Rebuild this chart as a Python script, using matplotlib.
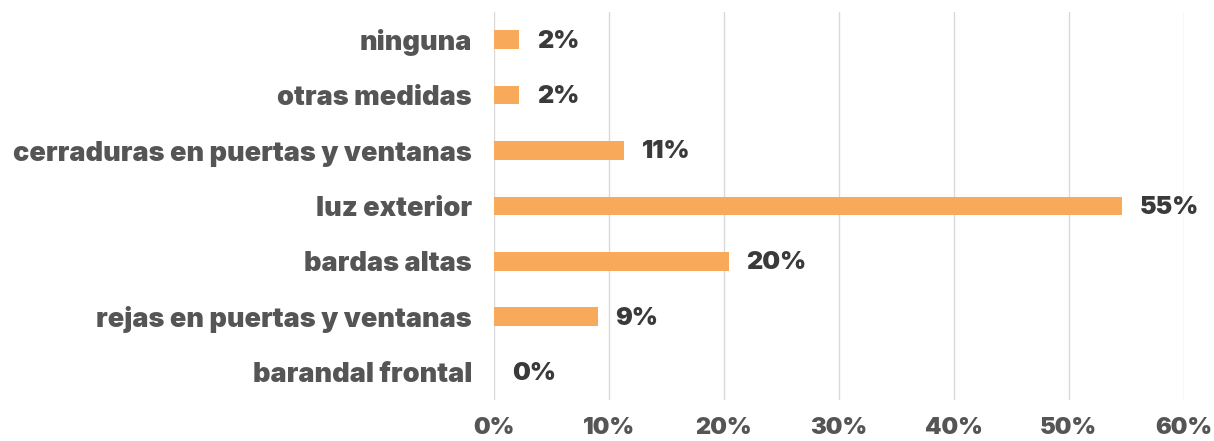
import matplotlib
matplotlib.use("Agg")
import matplotlib.pyplot as plt
from matplotlib.ticker import FuncFormatter

categories = ["ninguna", "otras medidas", "cerraduras en puertas y ventanas",
              "luz exterior", "bardas altas", "rejas en puertas y ventanas",
              "barandal frontal"]
values = [2.2, 2.2, 11.3, 54.6, 20.4, 9.0, 0.0]
labels = ["2%", "2%", "11%", "55%", "20%", "9%", "0%"]
xticks = [0, 10, 20, 30, 40, 50, 60]

plt.rcParams['font.family'] = ['Inter', 'DejaVu Sans']

fig = plt.figure(figsize=(12.14, 4.41), dpi=100)
ax = fig.add_axes([0.407, 0.093, 0.568, 0.88])

y = list(range(len(categories)))
ax.barh(y, values, height=0.34, color="#F9A95A", zorder=3)
for yi, v, lab in zip(y, values, labels):
    ax.annotate(lab, (v, yi), xytext=(13, -1), textcoords="offset points",
                va="center", ha="left", fontsize=18, fontweight=900,
                color="#3a3a3a")

ax.set_ylim(len(categories) - 0.5, -0.5)
ax.set_xlim(0, 60)
ax.set_xticks(xticks)
ax.xaxis.set_major_formatter(FuncFormatter(lambda v, p: f"{int(v)}%"))
ax.set_yticks(y)
ax.set_yticklabels(categories)
ax.grid(axis="x", color="#d9d9d9", linewidth=1, zorder=0)
for s in ax.spines.values():
    s.set_visible(False)
ax.tick_params(axis="both", length=0, labelcolor="#555555")
ax.tick_params(axis="y", pad=16, labelsize=19.5)
ax.tick_params(axis="x", pad=12, labelsize=17)
for t in ax.get_xticklabels() + ax.get_yticklabels():
    t.set_fontweight(900)

fig.savefig("out.png", dpi=100)
